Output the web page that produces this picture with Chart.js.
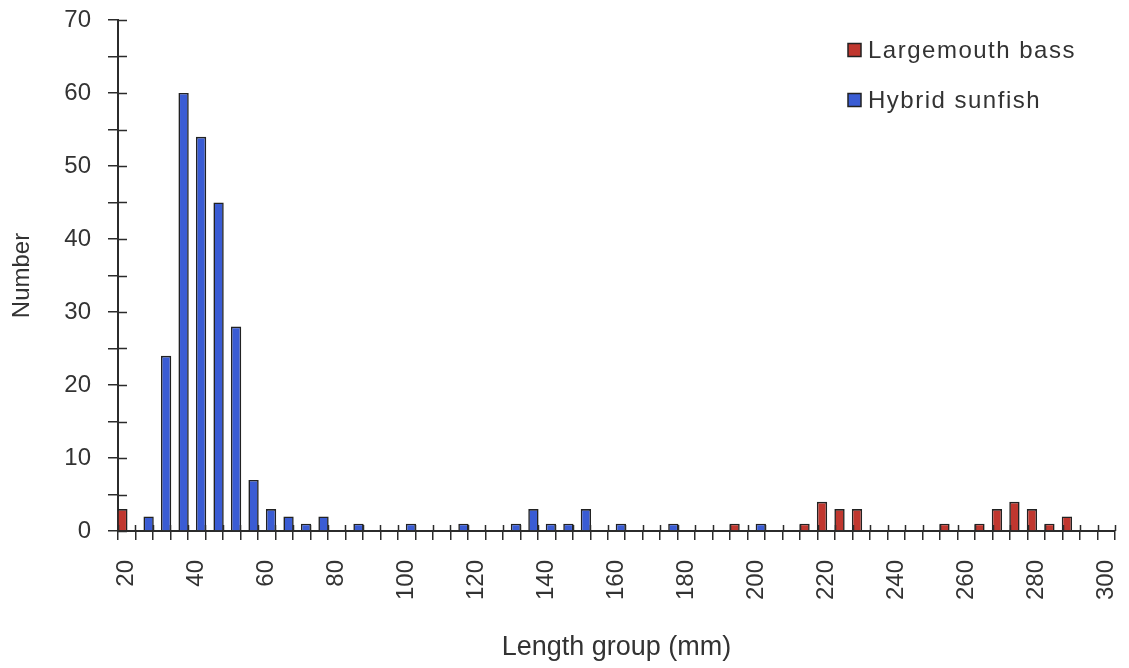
<!DOCTYPE html>
<html>
<head>
<meta charset="utf-8">
<script src="https://cdn.jsdelivr.net/npm/chart.js@4.4.1/dist/chart.umd.min.js"></script>
<style>
  html, body { margin: 0; padding: 0; background: #ffffff; }
  #wrap { width: 1129px; height: 668px; position: relative; }
</style>
</head>
<body>
<div id="wrap"><canvas id="c" width="1129" height="668"></canvas></div>
<script>
// Length groups (mm), one category every 5 mm
const lengthGroups = [20,25,30,35,40,45,50,55,60,65,70,75,80,85,90,95,100,105,110,115,120,125,130,135,140,145,150,155,160,165,170,175,180,185,190,195,200,205,210,215,220,225,230,235,240,245,250,255,260,265,270,275,280,285,290,295,300];

// Number of fish per length group
const largemouthBass = [3,0,0,0,0,0,0,0,0,0,0,0,0,0,0,0,0,0,0,0,0,0,0,0,0,0,0,0,0,0,0,0,0,0,0,1,0,0,0,1,4,3,3,0,0,0,0,1,0,1,3,4,3,1,2,0,0];
const hybridSunfish  = [0,2,24,60,54,45,28,7,3,2,1,2,0,1,0,0,1,0,0,1,0,0,1,3,1,1,3,0,1,0,0,1,0,0,0,0,1,0,0,0,0,0,0,0,0,0,0,0,0,0,0,0,0,0,0,0,0];

// Axis tick labels
const xLabelEvery = 4;          // label 20, 40, 60 ... 300
const yTickValues = [0,10,20,30,40,50,60,70];

const seriesNames = ['Largemouth bass', 'Hybrid sunfish'];
const seriesColors = ['#C0372F', '#3A5CD4'];

const FONT = '"Liberation Sans", Arial, Helvetica, sans-serif';
const TEXT = '#333333';
const AXIS = '#2b2b2b';

Chart.defaults.font.family = FONT;
Chart.defaults.color = TEXT;

const insideLegend = {
  id: 'insideLegend',
  afterDraw(chart) {
    const ctx = chart.ctx;
    ctx.save();
    ctx.font = '24px ' + FONT;
    ctx.textBaseline = 'middle';
    ctx.textAlign = 'left';
    try { ctx.letterSpacing = '1.5px'; } catch (e) {}
    chart.data.datasets.forEach((ds, i) => {
      const cy = 50 + i * 50;
      const x = 848;
      ctx.fillStyle = ds.backgroundColor;
      ctx.fillRect(x, cy - 6.5, 13, 13);
      ctx.strokeStyle = '#222';
      ctx.lineWidth = 1.5;
      ctx.strokeRect(x, cy - 6.5, 13, 13);
      ctx.fillStyle = TEXT;
      ctx.fillText(ds.label, 868, cy + 1);
    });
    ctx.restore();
  }
};

// Excel-style "cross" tick marks: draw the inner half of each tick
const crossTicks = {
  id: 'crossTicks',
  afterDatasetsDraw(chart) {
    const ctx = chart.ctx;
    const xs = chart.scales.x, ys = chart.scales.y;
    ctx.save();
    ctx.strokeStyle = AXIS;
    ctx.lineWidth = 1.5;
    ctx.beginPath();
    const n = xs.ticks.length;
    const w = (xs.right - xs.left) / n;
    for (let i = 0; i <= n; i++) {
      const px = Math.round(xs.left + i * w) + 0.5;
      ctx.moveTo(px, xs.top);
      ctx.lineTo(px, xs.top - 6);
    }
    ys.ticks.forEach((t, i) => {
      const py = Math.round(ys.getPixelForTick(i)) + 0.5;
      ctx.moveTo(ys.right, py);
      ctx.lineTo(ys.right + 9, py);
    });
    ctx.stroke();
    ctx.restore();
  }
};

new Chart(document.getElementById('c'), {
  type: 'bar',
  data: {
    labels: lengthGroups,
    datasets: [
      {
        label: seriesNames[0],
        data: largemouthBass,
        backgroundColor: seriesColors[0],
        borderColor: '#222222',
        borderWidth: 1.6,
        borderSkipped: 'bottom'
      },
      {
        label: seriesNames[1],
        data: hybridSunfish,
        backgroundColor: seriesColors[1],
        borderColor: '#222222',
        borderWidth: 1.6,
        borderSkipped: 'bottom'
      }
    ]
  },
  options: {
    responsive: false,
    animation: false,
    devicePixelRatio: 1,
    categoryPercentage: 1.0,
    barPercentage: 1.18,
    layout: { padding: { left: 0, right: 14, top: 20, bottom: 0 } },
    plugins: {
      legend: { display: false },
      tooltip: { enabled: false }
    },
    scales: {
      x: {
        type: 'category',
        afterFit(scale) {
          scale.height = 137;
          scale.paddingLeft = 0; scale.paddingRight = 0;
          scale.paddingTop = 0; scale.paddingBottom = 0;
        },
        grid: {
          offset: true,
          drawOnChartArea: false,
          drawTicks: true,
          tickLength: 9,
          color: AXIS,
          lineWidth: 1.5
        },
        border: { display: true, color: AXIS, width: 2 },
        ticks: {
          autoSkip: false,
          maxRotation: 90,
          minRotation: 90,
          padding: 20,
          color: TEXT,
          font: { size: 24 },
          callback(value, index) {
            return index % xLabelEvery === 0 ? String(lengthGroups[index]) : '';
          }
        },
        title: {
          display: true,
          text: 'Length group (mm)',
          color: TEXT,
          font: { size: 27 },
          padding: { top: 0, bottom: 4 }
        }
      },
      y: {
        min: 0,
        max: 70,
        afterFit(scale) {
          scale.width = 118;
          scale.paddingLeft = 0; scale.paddingRight = 0;
          scale.paddingTop = 0; scale.paddingBottom = 0;
        },
        grid: {
          drawOnChartArea: false,
          drawTicks: true,
          tickLength: 10,
          color: AXIS,
          lineWidth: 1.5
        },
        border: { display: true, color: AXIS, width: 2 },
        ticks: {
          stepSize: 5,
          padding: 17,
          color: TEXT,
          font: { size: 24 },
          callback(value) {
            return yTickValues.includes(value) ? String(value) : '';
          }
        },
        title: {
          display: true,
          text: 'Number',
          color: TEXT,
          font: { size: 24 },
          padding: { top: 8, bottom: 0 }
        }
      }
    }
  },
  plugins: [insideLegend, crossTicks]
});
</script>
</body>
</html>
